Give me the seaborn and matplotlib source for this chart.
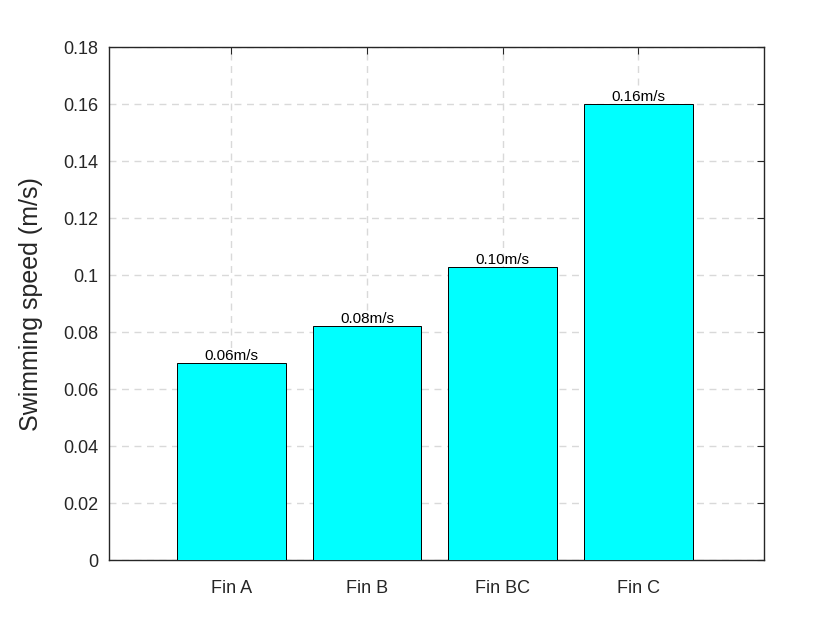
import seaborn as sns
import matplotlib.pyplot as plt
import pandas as pd

fins = ['Fin A', 'Fin B', 'Fin BC', 'Fin C']
speeds = [0.069, 0.082, 0.103, 0.160]
labels = ['0.06m/s', '0.08m/s', '0.10m/s', '0.16m/s']


def main():
    sns.set_style('white')
    plt.rcParams['font.family'] = ['Liberation Sans', 'DejaVu Sans']

    df = pd.DataFrame({'fin': fins, 'speed': speeds})
    fig = plt.figure(figsize=(8.4, 6.3), dpi=100)
    ax = fig.add_axes([0.130, 0.111, 0.780, 0.814])

    sns.barplot(data=df, x='fin', y='speed', color='#00ffff', saturation=1,
                width=0.8, edgecolor='black', linewidth=0.7, ax=ax, zorder=3)

    for i, (v, t) in enumerate(zip(speeds, labels)):
        ax.text(i, v, t, ha='center', va='bottom', fontsize=11, color='black', zorder=4)

    ax.set_xlim(-0.9, 3.93)
    ax.set_ylim(0, 0.18)
    ax.set_yticks([0, 0.02, 0.04, 0.06, 0.08, 0.1, 0.12, 0.14, 0.16, 0.18])
    ax.set_yticklabels(['0', '0.02', '0.04', '0.06', '0.08', '0.1', '0.12',
                        '0.14', '0.16', '0.18'])
    ax.grid(True, linestyle=(0, (5, 4)), color='#d9d9d9', linewidth=1, zorder=0)
    ax.set_axisbelow(True)
    ax.tick_params(direction='in', labelsize=13, colors='#262626', length=5,
                   top=True, right=True)
    ax.tick_params(axis='x', pad=14)
    ax.tick_params(axis='y', pad=8)
    for s in ax.spines.values():
        s.set_color('#262626')
        s.set_linewidth(1)
    ax.set_xlabel('')
    ax.set_ylabel('Swimming speed (m/s)', fontsize=18, color='#262626', labelpad=14)

    plt.savefig('out.png')
    plt.close()


if __name__ == '__main__':
    main()
